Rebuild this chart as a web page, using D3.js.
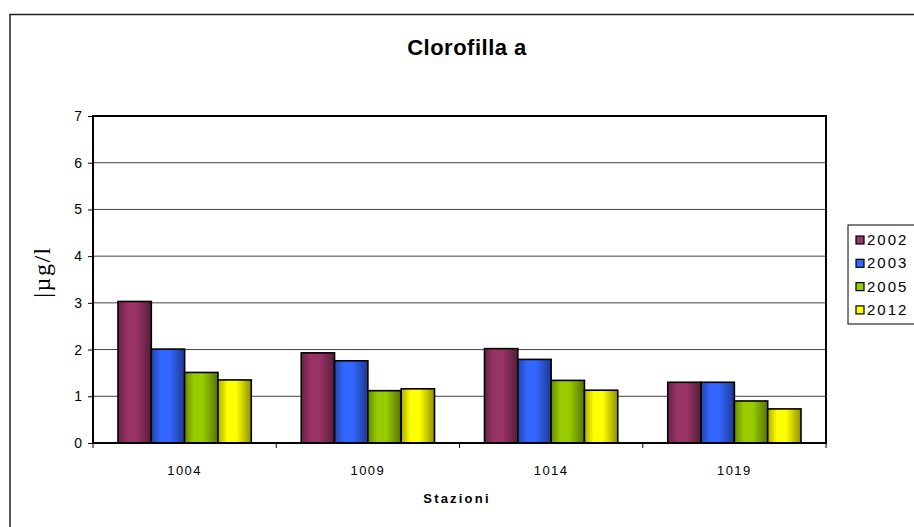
<!DOCTYPE html>
<html>
<head>
<meta charset="utf-8">
<script src="https://cdn.jsdelivr.net/npm/d3@7"></script>
<style>
  html, body { margin: 0; padding: 0; background: #fff; }
  svg { display: block; }
</style>
</head>
<body>
<svg id="chart" width="914" height="527"></svg>
<script>
// Chlorophyll a per station and year
const categories = ["1004", "1009", "1014", "1019"];
const years = ["2002", "2003", "2005", "2012"];
const values2002 = [3.03, 1.93, 2.02, 1.30];
const values2003 = [2.01, 1.76, 1.79, 1.30];
const values2005 = [1.51, 1.12, 1.34, 0.90];
const values2012 = [1.35, 1.16, 1.13, 0.73];
const yTicks = [0, 1, 2, 3, 4, 5, 6, 7];
const colors = ["#993366", "#3366FF", "#99CC00", "#FFFF00"];

const seriesValues = [values2002, values2003, values2005, values2012];
const rows = categories.map((c, i) => ({
  cat: c,
  bars: years.map((yr, j) => ({ year: yr, value: seriesValues[j][i], color: colors[j], idx: j }))
}));

const svg = d3.select("#chart");
const plot = { left: 93, right: 826, top: 116, bottom: 443 };

// Horizontal shading for the bars
const defs = svg.append("defs");
colors.forEach((c, j) => {
  const g = defs.append("linearGradient").attr("id", "grad" + j)
    .attr("x1", "0%").attr("x2", "100%").attr("y1", "0%").attr("y2", "0%");
  const base = d3.color(c);
  g.append("stop").attr("offset", "0%").attr("stop-color", base.darker(1.1));
  g.append("stop").attr("offset", "28%").attr("stop-color", base);
  g.append("stop").attr("offset", "55%").attr("stop-color", base);
  g.append("stop").attr("offset", "100%").attr("stop-color", base.darker(1.6));
});

// Outer frame
svg.append("rect")
  .attr("x", 10).attr("y", 14.5).attr("width", 930).attr("height", 540)
  .attr("fill", "#fff").attr("stroke", "#222").attr("stroke-width", 1.5);

// Scales
const x0 = d3.scaleBand().domain(categories).range([plot.left, plot.right]).paddingInner(0).paddingOuter(0);
const x1 = d3.scaleBand().domain(years).range([0, x0.bandwidth()]).paddingInner(0).paddingOuter(0.75);
const y = d3.scaleLinear().domain([0, 7]).range([plot.bottom, plot.top]);

// Gridlines
svg.append("g").selectAll("line").data(yTicks.filter(t => t > 0 && t < 7)).join("line")
  .attr("x1", plot.left).attr("x2", plot.right)
  .attr("y1", d => y(d)).attr("y2", d => y(d))
  .attr("stroke", "#444").attr("stroke-width", 1);

// Bars
const groups = svg.append("g").selectAll("g").data(rows).join("g")
  .attr("transform", d => `translate(${x0(d.cat)},0)`);
groups.selectAll("rect").data(d => d.bars).join("rect")
  .attr("x", d => x1(d.year))
  .attr("y", d => y(d.value))
  .attr("width", x1.bandwidth())
  .attr("height", d => y(0) - y(d.value))
  .attr("fill", d => `url(#grad${d.idx})`)
  .attr("stroke", "#000").attr("stroke-width", 1.6);

// Plot border
svg.append("rect")
  .attr("x", plot.left).attr("y", plot.top)
  .attr("width", plot.right - plot.left).attr("height", plot.bottom - plot.top)
  .attr("fill", "none").attr("stroke", "#000").attr("stroke-width", 2);

// Y axis
const yAxis = d3.axisLeft(y).tickValues(yTicks).tickSize(5).tickPadding(6).tickFormat(d3.format("d"));
const gy = svg.append("g").attr("transform", `translate(${plot.left},0)`).call(yAxis);
gy.select(".domain").remove();
gy.selectAll("line").attr("stroke", "#000");
gy.selectAll("text").attr("font-family", "Arial, 'Liberation Sans', sans-serif")
  .attr("font-size", 14).attr("fill", "#000");

// X axis: ticks at category boundaries, labels centred in each category
const boundaries = categories.map(c => x0(c)).concat([plot.right]);
svg.append("g").selectAll("line").data(boundaries).join("line")
  .attr("x1", d => d).attr("x2", d => d)
  .attr("y1", plot.bottom).attr("y2", plot.bottom + 5)
  .attr("stroke", "#000").attr("stroke-width", 1);
svg.append("g").selectAll("text").data(categories).join("text")
  .attr("x", d => x0(d) + x0.bandwidth() / 2)
  .attr("y", 475)
  .attr("text-anchor", "middle")
  .attr("font-family", "Arial, 'Liberation Sans', sans-serif")
  .attr("font-size", 13).attr("letter-spacing", 1.5)
  .text(d => d);

// Title
svg.append("text")
  .attr("x", 467).attr("y", 55)
  .attr("text-anchor", "middle")
  .attr("font-family", "Arial, 'Liberation Sans', sans-serif")
  .attr("font-weight", "bold").attr("font-size", 22).attr("letter-spacing", 0.5)
  .text("Clorofilla a");

// X axis title
svg.append("text")
  .attr("x", 457).attr("y", 503)
  .attr("text-anchor", "middle")
  .attr("font-family", "Arial, 'Liberation Sans', sans-serif")
  .attr("font-weight", "bold").attr("font-size", 13).attr("letter-spacing", 2.2)
  .text("Stazioni");

// Y axis title
svg.append("text")
  .attr("transform", "translate(50,272) rotate(-90)")
  .attr("text-anchor", "middle")
  .attr("font-family", "'Liberation Serif', 'Times New Roman', serif")
  .attr("font-size", 24).attr("letter-spacing", 1.5)
  .text("|\u00B5g/l");

// Legend
const legend = svg.append("g");
legend.append("rect")
  .attr("x", 848).attr("y", 225).attr("width", 80).attr("height", 99)
  .attr("fill", "#fff").attr("stroke", "#000").attr("stroke-width", 1);
const items = legend.selectAll("g").data(years).join("g")
  .attr("transform", (d, i) => `translate(856,${240 + i * 23.3})`);
items.append("rect")
  .attr("x", 0).attr("y", -4).attr("width", 8).attr("height", 8)
  .attr("fill", (d, i) => colors[i]).attr("stroke", "#000").attr("stroke-width", 1.2);
items.append("text")
  .attr("x", 11).attr("y", 5)
  .attr("font-family", "Arial, 'Liberation Sans', sans-serif")
  .attr("font-size", 15).attr("letter-spacing", 2)
  .text(d => d);
</script>
</body>
</html>
